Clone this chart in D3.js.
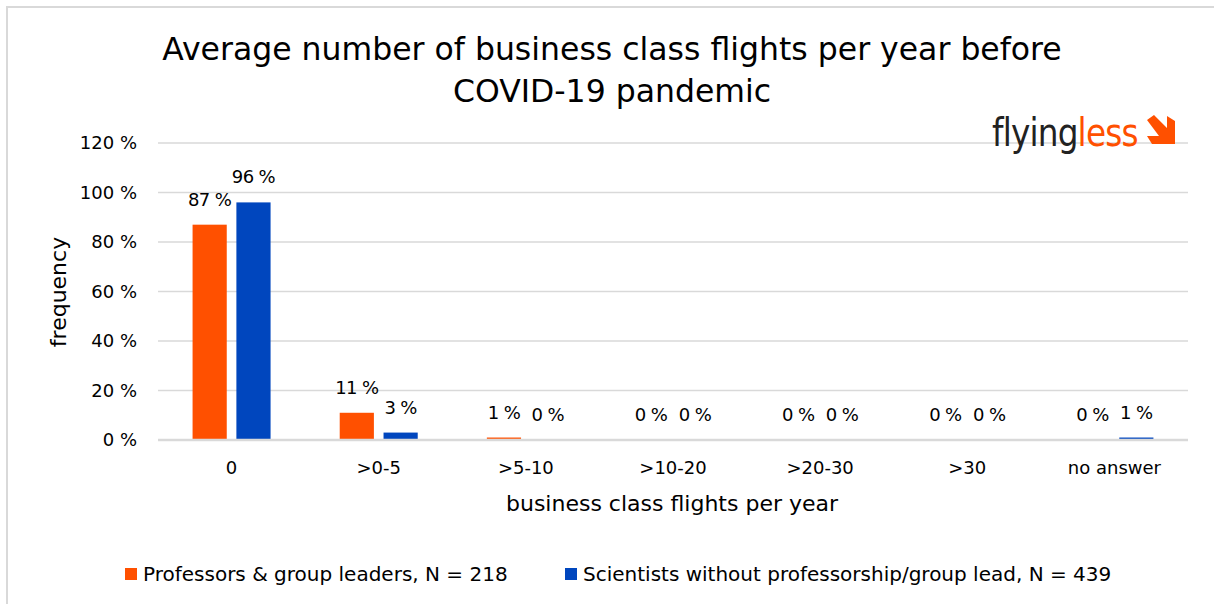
<!doctype html>
<html>
<head>
<meta charset="utf-8">
<title>Business class flights</title>
<script src="https://d3js.org/d3.v7.min.js"></script>
<style>
  body { margin: 0; background: #fff; }
  text { font-family: "DejaVu Sans", Arial, sans-serif; fill: #000; }
</style>
</head>
<body>
<script>
// data
var categories = ["0", ">0-5", ">5-10", ">10-20", ">20-30", ">30", "no answer"];
var profValues = [87, 11, 1, 0, 0, 0, 0];
var sciValues = [96, 3, 0, 0, 0, 0, 1];
var seriesNames = ["Professors & group leaders, N = 218", "Scientists without professorship/group lead, N = 439"];
var seriesColors = ["#ff5000", "#0046be"];
var yTicks = [0, 20, 40, 60, 80, 100, 120];

var W = 1214, H = 604;
var plotL = 158, plotR = 1188, plotT = 143, plotB = 440;

var svg = d3.select("body").append("svg").attr("width", W).attr("height", H);

// outer frame
svg.append("rect").attr("x", 7).attr("y", 7).attr("width", W + 20).attr("height", H + 20)
  .attr("fill", "#fff").attr("stroke", "#d9d9d9").attr("stroke-width", 2);

var x = d3.scaleBand().domain(categories).range([plotL, plotR]);
var y = d3.scaleLinear().domain([0, 120]).range([plotB, plotT]);
var inner = d3.scaleBand().domain([0, 1]).range([-39, 39]).paddingInner(0.22);

// grid
svg.append("g").selectAll("line").data(yTicks.slice(1)).enter().append("line")
  .attr("x1", plotL).attr("x2", plotR)
  .attr("y1", d => y(d)).attr("y2", d => y(d))
  .attr("stroke", "#d9d9d9").attr("stroke-width", 1.5);

// y tick labels
svg.append("g").selectAll("text").data(yTicks).enter().append("text")
  .attr("x", 137).attr("y", d => y(d) + 6)
  .attr("text-anchor", "end").attr("font-size", 18)
  .text(d => d + " %");

// bars
var series = [profValues, sciValues];
series.forEach(function (vals, s) {
  var g = svg.append("g");
  g.selectAll("rect").data(vals).enter().append("rect")
    .attr("x", (d, i) => x(categories[i]) + x.bandwidth() / 2 + inner(s))
    .attr("width", inner.bandwidth())
    .attr("y", d => y(d))
    .attr("height", d => Math.max(y(0) - y(d), d > 0 ? 1.5 : 0))
    .attr("fill", seriesColors[s]);
  g.selectAll("text").data(vals).enter().append("text")
    .attr("x", (d, i) => x(categories[i]) + x.bandwidth() / 2 + inner(s) + inner.bandwidth() / 2)
    .attr("y", d => y(d) - 19)
    .attr("text-anchor", "middle").attr("font-size", 18).attr("letter-spacing", -0.6)
    .text(d => d + " %");
});

// axis line
svg.append("line").attr("x1", plotL).attr("x2", plotR).attr("y1", plotB).attr("y2", plotB)
  .attr("stroke", "#d9d9d9").attr("stroke-width", 2.5);

// category labels
svg.append("g").selectAll("text").data(categories).enter().append("text")
  .attr("x", d => x(d) + x.bandwidth() / 2).attr("y", 474)
  .attr("text-anchor", "middle").attr("font-size", 18)
  .text(d => d);

// axis titles
svg.append("text").attr("x", 672).attr("y", 511).attr("text-anchor", "middle")
  .attr("font-size", 22).text("business class flights per year");
svg.append("text").attr("transform", "translate(66,292) rotate(-90)").attr("text-anchor", "middle")
  .attr("font-size", 22).text("frequency");

// title
svg.append("text").attr("x", 612).attr("y", 60).attr("text-anchor", "middle")
  .attr("font-size", 31.5).text("Average number of business class flights per year before");
svg.append("text").attr("x", 612).attr("y", 102).attr("text-anchor", "middle")
  .attr("font-size", 31.5).text("COVID-19 pandemic");

// logo
var logo = svg.append("g").attr("transform", "translate(992,146)");
var lt = logo.append("text").attr("font-family", "Liberation Sans, Arial, sans-serif")
  .attr("font-size", 39).attr("letter-spacing", -1).attr("transform", "scale(0.84,1)");
lt.append("tspan").attr("fill", "#222").text("flying");
lt.append("tspan").attr("fill", "#ff5000").text("less");
logo.append("path")
  .attr("d", "M155,-26 L162,-31 L175,-18 L175,-30 L183,-25 L183,-2 L160,-2 L155,-10 L167,-10 Z")
  .attr("fill", "#ff5000");

// legend
var legX = [125, 565];
seriesNames.forEach(function (n, i) {
  svg.append("rect").attr("x", legX[i]).attr("y", 568).attr("width", 12).attr("height", 12)
    .attr("fill", seriesColors[i]);
  svg.append("text").attr("x", legX[i] + 18).attr("y", 581).attr("font-size", 20).text(n);
});
</script>
</body>
</html>
